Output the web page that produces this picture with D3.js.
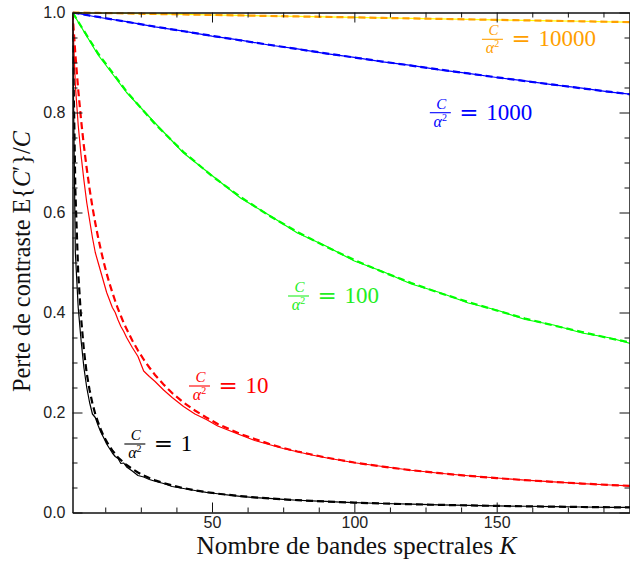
<!DOCTYPE html>
<html><head><meta charset="utf-8">
<script src="https://cdnjs.cloudflare.com/ajax/libs/d3/7.8.5/d3.min.js"></script>
<style>body{margin:0;background:#fff;overflow:hidden} svg{display:block}</style>
</head><body><svg id="c" width="630" height="565"></svg>
<script>
// ---------- data ----------
const kSteep = [1,2,3,4,5,6,7,8,9,10,11,12,13,14,15,16,17,18,19,20,22,24,26,28,30,33,36,40,44,48,52,56,60,65,70,75,80,85,90,95,100,110,120,130,140,150,160,170,180,190,197];
const kFlat = [1,10,20,30,40,50,60,70,80,90,100,110,120,130,140,150,160,170,180,190,197];

const r1Sim = [1.0,0.52,0.41,0.345,0.29,0.25,0.22,0.197,0.19,0.174,0.16,0.149,0.137,0.128,0.119,0.112,0.108,0.098,0.099,0.091,0.083,0.074,0.071,0.066,0.0625,0.058,0.052,0.048,0.044,0.0402,0.0375,0.0348,0.0322,0.0298,0.0281,0.0262,0.0245,0.0232,0.0222,0.0206,0.0199,0.018,0.0166,0.0152,0.0143,0.0132,0.0125,0.0117,0.011,0.0104,0.0101];
const r1Theory = [1.0,0.645,0.48,0.39,0.325,0.278,0.245,0.218,0.197,0.18,0.165,0.152,0.142,0.132,0.124,0.117,0.11,0.105,0.0995,0.095,0.087,0.08,0.074,0.069,0.0645,0.0588,0.0541,0.0488,0.0444,0.0408,0.0377,0.0351,0.0328,0.0303,0.0282,0.0263,0.0247,0.0233,0.022,0.0208,0.0198,0.018,0.0165,0.0153,0.0142,0.0132,0.0124,0.0117,0.011,0.0105,0.0101];

const r10Sim = [1.0,0.855,0.775,0.715,0.665,0.62,0.585,0.55,0.52,0.50,0.48,0.46,0.44,0.425,0.41,0.40,0.385,0.372,0.362,0.35,0.33,0.312,0.283,0.272,0.262,0.245,0.230,0.212,0.197,0.186,0.173,0.164,0.155,0.144,0.136,0.128,0.1215,0.115,0.1095,0.1045,0.0995,0.092,0.0845,0.0785,0.0735,0.069,0.0648,0.0612,0.0578,0.055,0.053];
const r10Theory = [1.0,0.917,0.846,0.786,0.733,0.688,0.647,0.611,0.579,0.55,0.524,0.5,0.478,0.458,0.44,0.423,0.407,0.393,0.379,0.367,0.344,0.324,0.306,0.290,0.275,0.256,0.239,0.22,0.204,0.19,0.177,0.167,0.157,0.147,0.1375,0.129,0.122,0.116,0.11,0.105,0.1,0.0917,0.0846,0.0786,0.0733,0.0688,0.0647,0.0611,0.0579,0.055,0.0533];

const r100Sim = [1.0,0.915,0.840,0.779,0.719,0.674,0.629,0.595,0.559,0.533,0.503,0.482,0.457,0.440,0.419,0.405,0.386,0.375,0.359,0.349,0.338];
const r100Theory = [1.0,0.918,0.842,0.777,0.721,0.673,0.631,0.594,0.561,0.532,0.505,0.481,0.459,0.439,0.421,0.404,0.388,0.374,0.361,0.348,0.340];

const r1000Sim = [1.0,0.9905,0.9818,0.9712,0.9629,0.9528,0.9447,0.9350,0.9273,0.9179,0.9104,0.9014,0.8941,0.8854,0.8784,0.8700,0.8632,0.8552,0.8486,0.8409,0.8365];
const r1000Theory = [1.0,0.9911,0.9814,0.9718,0.9625,0.9533,0.9443,0.9355,0.9269,0.9183,0.91,0.9018,0.8938,0.8858,0.8781,0.8704,0.8629,0.8556,0.8483,0.8412,0.8363];

const r10000Sim = [1.0,0.9990,0.9982,0.9970,0.9962,0.9950,0.9942,0.9930,0.9922,0.9911,0.9903,0.9891,0.9883,0.9871,0.9863,0.9852,0.9844,0.9832,0.9825,0.9813,0.9808];
const r10000Theory = [1.0,0.9991,0.9981,0.9971,0.9961,0.9951,0.9941,0.9931,0.9921,0.9912,0.9902,0.9892,0.9882,0.9872,0.9862,0.9853,0.9843,0.9833,0.9824,0.9814,0.9807];

const ratioLabels = ["1","10","100","1000","10000"];
const xMajorTicks = [50,100,150];
const yMajorTicks = [0,0.2,0.4,0.6,0.8,1.0];
const yTickLabels = ["0.0","0.2","0.4","0.6","0.8","1.0"];
const xTitle = "Nombre de bandes spectrales ";
const yTitle = "Perte de contraste E{";

// ---------- layout / style ----------
const series = [
  {k:kSteep, sim:r1Sim,    th:r1Theory,    simColor:"#000000", thColor:"#000000", lab:ratioLabels[0], lk:22.9,  lv:0.137, labColor:"#000000"},
  {k:kSteep, sim:r10Sim,   th:r10Theory,   simColor:"#ff0000", thColor:"#ff0000", lab:ratioLabels[1], lk:45.6,  lv:0.253, labColor:"#ff0000"},
  {k:kFlat,  sim:r100Sim,  th:r100Theory,  simColor:"#00ff00", thColor:"#00ff00", lab:ratioLabels[2], lk:80.4,  lv:0.433, labColor:"#22ee22"},
  {k:kFlat,  sim:r1000Sim, th:r1000Theory, simColor:"#0000ff", thColor:"#0000ff", lab:ratioLabels[3], lk:130.2, lv:0.7996, labColor:"#0000ff"},
  {k:kFlat,  sim:r10000Sim,th:r10000Theory,simColor:"#ffff00", thColor:"#ffa000", lab:ratioLabels[4], lk:148.5, lv:0.9464, labColor:"#ffa000"}
];

const svg = d3.select("#c");
const L = 72.5, R = 630.5, T = 12.5, B = 512.5;
const x = d3.scaleLinear().domain([1,197]).range([L,R]);
const y = d3.scaleLinear().domain([0,1]).range([B,T]);

const serif = "'Liberation Serif','Times New Roman',serif";
const sans = "'Liberation Sans',Arial,Helvetica,sans-serif";

svg.append("defs").append("clipPath").attr("id","clip")
  .append("rect").attr("x",L).attr("y",T-2).attr("width",R-L).attr("height",B-T+4);

const plot = svg.append("g").attr("clip-path","url(#clip)");
const line = (ks) => d3.line().x((d,i)=>x(ks[i])).y(d=>y(d));

series.forEach(s=>{
  plot.append("path").attr("d", line(s.k)(s.sim)).attr("fill","none")
    .attr("stroke",s.simColor).attr("stroke-width",1.2).attr("stroke-linejoin","round");
});
series.forEach(s=>{
  plot.append("path").attr("d", line(s.k)(s.th)).attr("fill","none")
    .attr("stroke",s.thColor).attr("stroke-width",2.2).attr("stroke-dasharray","7,4");
});

// ---------- axes ----------
const axColor = "#111";
const xMinor = d3.range(12.5,197,12.5).filter(v=>!xMajorTicks.includes(v));
const yMinor = d3.range(0.05,1,0.05).map(v=>+v.toFixed(2)).filter(v=>Math.abs(v*5-Math.round(v*5))>1e-6);

function styleAxis(g){
  g.selectAll("path.domain").attr("stroke",axColor).attr("stroke-width",1);
  g.selectAll(".tick line").attr("stroke",axColor).attr("stroke-width",1);
  g.selectAll(".tick text").attr("fill","#222").style("font-family",sans).style("font-size","16px");
}
svg.append("g").attr("transform",`translate(0,${B})`)
  .call(d3.axisBottom(x).tickValues(xMajorTicks).tickSize(-10).tickSizeOuter(0).tickPadding(4).tickFormat(d3.format("d")))
  .call(styleAxis);
svg.append("g").attr("transform",`translate(0,${B})`)
  .call(d3.axisBottom(x).tickValues(xMinor).tickSize(-5).tickSizeOuter(0).tickFormat(""))
  .call(styleAxis);
svg.append("g").attr("transform",`translate(0,${T})`)
  .call(d3.axisTop(x).tickValues(xMajorTicks).tickSize(-10).tickSizeOuter(0).tickFormat(""))
  .call(styleAxis);
svg.append("g").attr("transform",`translate(0,${T})`)
  .call(d3.axisTop(x).tickValues(xMinor).tickSize(-5).tickSizeOuter(0).tickFormat(""))
  .call(styleAxis);
svg.append("g").attr("transform",`translate(${L},0)`)
  .call(d3.axisLeft(y).tickValues(yMajorTicks).tickSize(-10).tickSizeOuter(0).tickPadding(7).tickFormat((d,i)=>yTickLabels[i]))
  .call(styleAxis);
svg.append("g").attr("transform",`translate(${L},0)`)
  .call(d3.axisLeft(y).tickValues(yMinor).tickSize(-5).tickSizeOuter(0).tickFormat(""))
  .call(styleAxis);
svg.append("g").attr("transform",`translate(${R-1},0)`)
  .call(d3.axisRight(y).tickValues(yMajorTicks).tickSize(-10).tickSizeOuter(0).tickFormat(""))
  .call(styleAxis);
svg.append("g").attr("transform",`translate(${R-1},0)`)
  .call(d3.axisRight(y).tickValues(yMinor).tickSize(-5).tickSizeOuter(0).tickFormat(""))
  .call(styleAxis);

// ---------- curve labels ----------
series.forEach(s=>{
  const cx = x(s.lk), by = y(s.lv);
  const g = svg.append("g").attr("fill",s.labColor);
  g.append("text").attr("x",cx+1).attr("y",by-4).attr("text-anchor","middle")
    .style("font-family",serif).style("font-style","italic").style("font-size","15px").text("C");
  g.append("line").attr("x1",cx-10.5).attr("x2",cx+10.5).attr("y1",by).attr("y2",by)
    .attr("stroke",s.labColor).attr("stroke-width",1.1);
  const den = g.append("text").attr("x",cx).attr("y",by+14).attr("text-anchor","middle")
    .style("font-family",serif).style("font-size","16px");
  den.append("tspan").style("font-style","italic").text("α");
  den.append("tspan").attr("dy",-6).style("font-size","10px").text("2");
  g.append("text").attr("x",cx+19).attr("y",by+7)
    .style("font-family","'DejaVu Serif',serif").style("font-size","23px").text("=");
  g.append("text").attr("x",cx+46).attr("y",by+7)
    .style("font-family",serif).style("font-size","23px").text(s.lab);
});

// ---------- axis titles ----------
function fit(sel, target){
  const w = sel.node().getComputedTextLength();
  const fs = parseFloat(sel.style("font-size"));
  sel.style("font-size", (fs*target/w)+"px");
}
const xt = svg.append("text").attr("x",(197+516)/2).attr("y",554).attr("text-anchor","middle")
  .attr("fill","#111").style("font-family",serif).style("font-size","23px");
xt.append("tspan").text(xTitle);
xt.append("tspan").style("font-style","italic").text("K");
fit(xt, 320);

const yt = svg.append("text").attr("transform","translate(30,261.5) rotate(-90)").attr("text-anchor","middle")
  .attr("fill","#111").style("font-family",serif).style("font-size","23px");
yt.append("tspan").text(yTitle);
yt.append("tspan").style("font-style","italic").text("C");
yt.append("tspan").text("′}/");
yt.append("tspan").style("font-style","italic").text("C");
fit(yt, 261);
</script>
</body></html>
